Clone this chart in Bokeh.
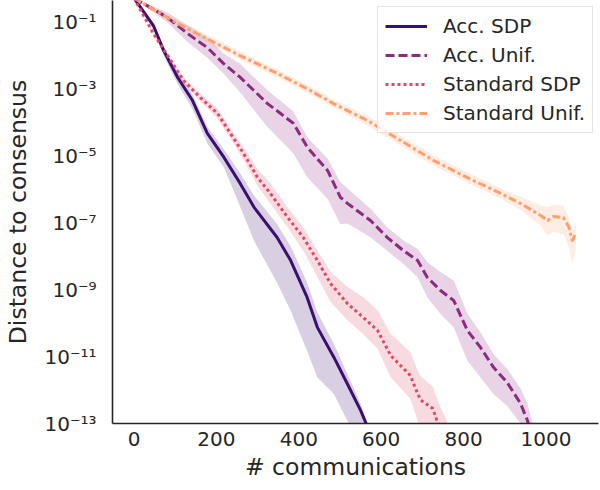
import numpy as np
from bokeh.plotting import figure
from bokeh.models import Range1d, FixedTicker, Legend, LegendItem
from bokeh.embed import file_html
from bokeh.resources import INLINE

# ---- data (x: # communications, values as log10 of distance to consensus) ----
acc_sdp_x = [0, 47, 72, 106, 142, 178, 218, 258, 291, 347, 380, 420, 445, 485, 518, 550, 562, 585]
acc_sdp_log = [-0.3, -1.12, -1.87, -2.67, -3.36, -4.34, -5.05, -5.84, -6.54, -7.44, -8.13, -9.23,
               -10.13, -11.02, -11.82, -12.61, -12.96, -13.6]
acc_sdp_below = [0, 0.1, 0.15, 0.2, 0.25, 0.3, 0.3, 0.7, 1.0, 1.35, 1.5, 1.6, 1.5, 1.1, 1.1, 1.1, 1.1, 1.1]
acc_sdp_above = [0, 0.08, 0.12, 0.15, 0.18, 0.2, 0.24, 0.3, 0.35, 0.4, 0.42, 0.45, 0.45, 0.4, 0.3, 0.2, 0.1, 0.1]

acc_unif_x = [0, 81, 130, 178, 217, 258, 324, 387, 421, 470, 501, 518, 574, 615, 654, 688, 712, 744,
              776, 809, 841, 873, 906, 938, 955, 970]
acc_unif_log = [-0.3, -0.88, -1.36, -1.78, -2.25, -2.67, -3.45, -4.04, -4.76, -5.45, -6.25, -6.43, -6.94,
                -7.45, -7.84, -8.13, -8.64, -9.03, -9.33, -10.22, -10.73, -11.33, -11.78, -12.4, -12.91, -13.6]
acc_unif_below = [0, 0.15, 0.25, 0.3, 0.3, 0.45, 0.7, 0.9, 0.9, 0.85, 0.8, 0.6, 0.5, 0.4, 0.4, 0.5, 0.6,
                  0.7, 0.8, 0.9, 0.9, 0.8, 0.7, 0.6, 0.5, 0.5]
acc_unif_above = [0, 0.15, 0.25, 0.3, 0.3, 0.4, 0.4, 0.35, 0.3, 0.35, 0.45, 0.45, 0.35, 0.3, 0.3, 0.35,
                  0.45, 0.55, 0.6, 0.5, 0.45, 0.4, 0.4, 0.45, 0.5, 0.5]

std_sdp_x = [0, 47, 89, 120, 161, 203, 234, 266, 300, 331, 373, 411, 445, 477, 518, 557, 591, 623,
             671, 688, 696, 725, 737, 760]
std_sdp_log = [-0.3, -1.36, -2.16, -2.76, -3.27, -3.75, -4.34, -4.94, -5.66, -6.13, -6.85, -7.45, -8.13,
               -8.82, -9.42, -9.84, -10.22, -10.97, -11.57, -12.1, -12.3, -12.55, -12.97, -13.6]
std_sdp_below = [0, 0.05, 0.08, 0.1, 0.12, 0.15, 0.15, 0.2, 0.25, 0.3, 0.3, 0.4, 0.5, 0.55, 0.5, 0.5,
                 0.55, 0.65, 0.7, 0.8, 0.9, 1.0, 1.1, 1.1]
std_sdp_above = [0, 0.05, 0.08, 0.1, 0.12, 0.15, 0.15, 0.2, 0.25, 0.3, 0.3, 0.3, 0.3, 0.35, 0.5, 0.6,
                 0.6, 0.65, 0.7, 0.7, 0.7, 0.66, 0.66, 0.66]

std_unif_x = [0, 106, 186, 266, 348, 428, 484, 567, 647, 727, 809, 890, 938, 987, 1004, 1018, 1042,
              1055, 1064, 1072]
std_unif_log = [-0.3, -1.06, -1.57, -2.07, -2.55, -3.06, -3.45, -3.96, -4.55, -5.15, -5.66, -6.13, -6.43,
                -6.79, -6.94, -6.82, -6.85, -7.12, -7.54, -7.33]
std_unif_below = [0, 0.1, 0.12, 0.12, 0.12, 0.12, 0.12, 0.15, 0.15, 0.15, 0.15, 0.15, 0.2, 0.3, 0.45,
                  0.45, 0.5, 0.6, 0.7, 0.5]
std_unif_above = [0, 0.1, 0.12, 0.12, 0.12, 0.12, 0.12, 0.15, 0.15, 0.15, 0.15, 0.15, 0.2, 0.3, 0.4,
                  0.35, 0.35, 0.3, 0.3, 0.3]

series_names = ["Acc. SDP", "Acc. Unif.", "Standard SDP", "Standard Unif."]
series_colors = ["#3b0f6f", "#8c2981", "#de4968", "#fe9f6d"]

x_ticks = [0, 200, 400, 600, 800, 1000]
y_tick_exponents = [-13, -11, -9, -7, -5, -3, -1]
y_tick_labels = ["10⁻¹³", "10⁻¹¹", "10⁻⁹", "10⁻⁷", "10⁻⁵", "10⁻³", "10⁻¹"]

x_label = "# communications"
y_label = "Distance to consensus"

# ---- figure ----
FONT = "DejaVu Sans"
TXT = "#262626"

p = figure(width=600, height=490, y_axis_type="log",
           x_range=Range1d(-52.2, 1127.4), y_range=Range1d(1e-13, 10 ** -0.373),
           output_backend="svg", toolbar_location=None,
           min_border_left=112, min_border_right=2, min_border_top=0, min_border_bottom=67)
p.outline_line_color = None
p.background_fill_color = "white"
p.border_fill_color = "white"
p.xgrid.visible = False
p.ygrid.visible = False

data = [
    (acc_sdp_x, acc_sdp_log, acc_sdp_below, acc_sdp_above),
    (acc_unif_x, acc_unif_log, acc_unif_below, acc_unif_above),
    (std_sdp_x, std_sdp_log, std_sdp_below, std_sdp_above),
    (std_unif_x, std_unif_log, std_unif_below, std_unif_above),
]
line_dashes = ["solid", "9 4", "3 3", "8 3 3 3"]

# bands first (below all lines)
for (xs, lg, lo, hi), color in zip(data, series_colors):
    lg = np.array(lg)
    p.varea(x=xs, y1=10 ** (lg - np.array(lo)), y2=10 ** (lg + np.array(hi)),
            fill_color=color, fill_alpha=0.2)

items = []
for (xs, lg, lo, hi), name, color, dash in zip(data, series_names, series_colors, line_dashes):
    r = p.line(x=xs, y=10 ** np.array(lg), line_color=color, line_width=3,
               line_dash=dash, line_join="round")
    items.append(LegendItem(label=name, renderers=[r]))

legend = Legend(items=items, location=(265, 290), margin=0, padding=7, spacing=5,
                glyph_width=42, glyph_height=20, label_height=20, label_standoff=16,
                label_text_font=FONT, label_text_font_size="20px", label_text_color=TXT,
                border_line_color="#cccccc", border_line_width=1,
                background_fill_color="white", background_fill_alpha=0.8)
p.add_layout(legend)

for ax in (p.xaxis[0], p.yaxis[0]):
    ax.axis_line_color = TXT
    ax.axis_line_width = 1.6
    ax.major_tick_line_color = None
    ax.minor_tick_line_color = None
    ax.major_tick_in = 0
    ax.major_tick_out = 0
    ax.minor_tick_in = 0
    ax.minor_tick_out = 0
    ax.major_label_text_font = FONT
    ax.major_label_text_font_size = "20px"
    ax.major_label_text_color = TXT
    ax.axis_label_text_font = FONT
    ax.axis_label_text_font_size = "23.5px"
    ax.axis_label_text_font_style = "normal"
    ax.axis_label_text_color = TXT

p.xaxis[0].ticker = FixedTicker(ticks=x_ticks, minor_ticks=[])
p.xaxis[0].axis_label = x_label
p.xaxis[0].major_label_standoff = 8
p.xaxis[0].axis_label_standoff = 4

y_tick_values = [10.0 ** e for e in y_tick_exponents]
p.yaxis[0].ticker = FixedTicker(ticks=y_tick_values, minor_ticks=[])
p.yaxis[0].major_label_overrides = {v: s for v, s in zip(y_tick_values, y_tick_labels)}
p.yaxis[0].axis_label = y_label
p.yaxis[0].major_label_standoff = 16
p.yaxis[0].axis_label_standoff = 9

open("out.html", "w").write(file_html(p, INLINE))
